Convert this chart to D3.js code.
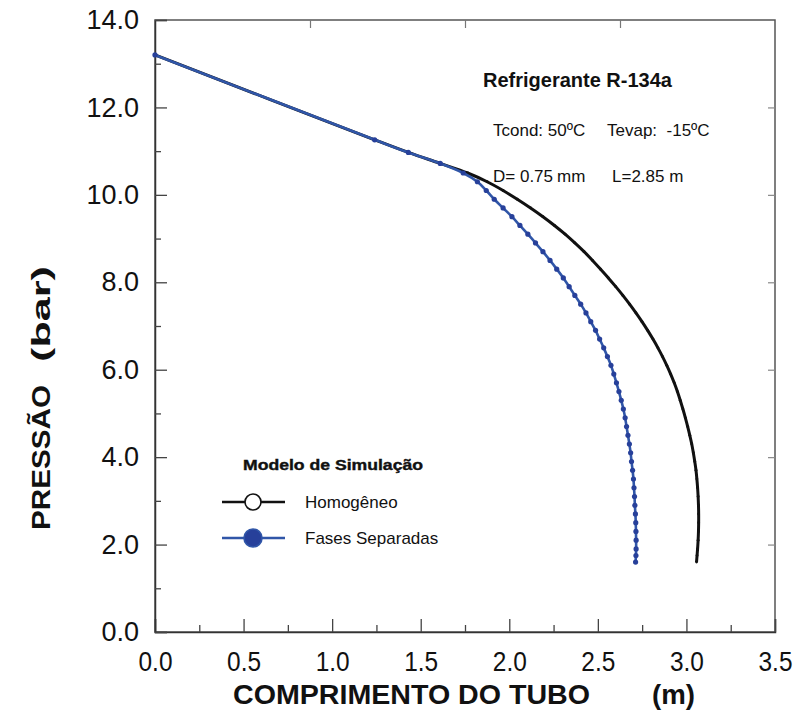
<!DOCTYPE html>
<html>
<head>
<meta charset="utf-8">
<script src="https://cdn.jsdelivr.net/npm/d3@7"></script>
<style>
  body { margin: 0; background: #fff; }
  svg { display: block; font-family: "Liberation Sans", Arial, sans-serif; }
</style>
</head>
<body>
<div id="chart"></div>
<script>
// Axis ticks
const xTickValues = [0, 0.5, 1.0, 1.5, 2.0, 2.5, 3.0, 3.5];
const xMinorTicks = [0.25, 0.75, 1.25, 1.75, 2.25, 2.75, 3.25];
const yTickValues = [0, 2, 4, 6, 8, 10, 12, 14];
const yMinorTicks = [1, 3, 5, 7, 9, 11, 13];
const topTicks = [0.875, 1.75, 2.625];
const rightTicks = [2, 4, 6, 8, 10, 12];

// Fases Separadas (blue) - pressure (bar) and tube length (m)
const sepPressure = [13.2, 11.26, 10.97, 10.72, 10.5, 10.3, 10.1, 9.9, 9.7, 9.5, 9.3, 9.1, 8.9, 8.7, 8.5,
  8.3, 8.1, 7.9, 7.7, 7.5, 7.3, 7.1, 6.9, 6.7, 6.5, 6.3, 6.1, 5.9, 5.7, 5.5, 5.3, 5.1, 4.9, 4.7, 4.5,
  4.3, 4.1, 3.9, 3.7, 3.5, 3.3, 3.1, 2.9, 2.7, 2.5, 2.3, 2.1, 1.9, 1.75, 1.6];
const sepLength = [0, 1.24, 1.43, 1.61, 1.74, 1.82, 1.87, 1.915, 1.965, 2.015, 2.06, 2.105, 2.148, 2.19, 2.23,
  2.268, 2.305, 2.338, 2.37, 2.403, 2.433, 2.46, 2.487, 2.51, 2.533, 2.554, 2.574, 2.59, 2.605, 2.619, 2.632, 2.644, 2.654, 2.662, 2.67,
  2.678, 2.685, 2.69, 2.696, 2.701, 2.704, 2.707, 2.709, 2.712, 2.714, 2.715, 2.716, 2.716, 2.715, 2.713];

// Homogeneo (black)
const homPressure = [13.2, 11.26, 10.97, 10.72, 10.5, 10.3, 10.1, 9.9, 9.7, 9.5, 9.3, 9.1, 8.9, 8.7, 8.5,
  8.3, 8.1, 7.9, 7.7, 7.5, 7.3, 7.1, 6.9, 6.7, 6.5, 6.3, 6.1, 5.9, 5.7, 5.5, 5.3, 5.1, 4.9, 4.7, 4.5,
  4.3, 4.1, 3.9, 3.7, 3.5, 3.3, 3.1, 2.9, 2.7, 2.5, 2.3, 2.1, 1.9, 1.75, 1.6];
const homLength = [0, 1.24, 1.43, 1.61, 1.765, 1.875, 1.965, 2.045, 2.12, 2.19, 2.255, 2.315, 2.37, 2.422, 2.47,
  2.515, 2.559, 2.601, 2.641, 2.679, 2.715, 2.749, 2.781, 2.811, 2.839, 2.865, 2.889, 2.911, 2.931, 2.949, 2.965, 2.98, 2.994, 3.007, 3.019,
  3.03, 3.039, 3.047, 3.054, 3.059, 3.063, 3.066, 3.068, 3.069, 3.069, 3.068, 3.066, 3.063, 3.06, 3.057];

const blue = "#3056a8";
const blueDot = "#27409a";

const W = 799, H = 720;
const margin = { top: 20, right: 24, bottom: 88, left: 155 };
const plotLeft = margin.left, plotRight = W - margin.right;
const plotTop = margin.top, plotBottom = H - margin.bottom;

const svg = d3.select("#chart").append("svg")
  .attr("width", W)
  .attr("height", H);

const x = d3.scaleLinear().domain([0, 3.5]).range([plotLeft, plotRight]);
const y = d3.scaleLinear().domain([0, 14]).range([plotBottom, plotTop]);

// Frame
svg.append("rect")
  .attr("x", plotLeft).attr("y", plotTop)
  .attr("width", plotRight - plotLeft).attr("height", plotBottom - plotTop)
  .attr("fill", "none").attr("stroke", "#555").attr("stroke-width", 1.5);

// Bottom axis (ticks inside)
const xAxis = svg.append("g")
  .attr("transform", `translate(0,${plotBottom})`)
  .call(d3.axisBottom(x).tickValues(xTickValues).tickSize(-13).tickPadding(20).tickFormat(d3.format(".1f")));
xAxis.select(".domain").attr("stroke", "#333").attr("stroke-width", 1.5);
xAxis.selectAll(".tick line").attr("stroke", "#444").attr("stroke-width", 1.3);
xAxis.selectAll(".tick text").attr("font-size", 27).attr("fill", "#111")
  .attr("font-family", "Liberation Sans, Arial, sans-serif")
  .attr("textLength", 34).attr("lengthAdjust", "spacingAndGlyphs");

svg.append("g")
  .attr("transform", `translate(0,${plotBottom})`)
  .call(d3.axisBottom(x).tickValues(xMinorTicks).tickSize(-7).tickFormat(""))
  .call(g => g.select(".domain").remove())
  .selectAll(".tick line").attr("stroke", "#444").attr("stroke-width", 1.3);

// Left axis
const yAxis = svg.append("g")
  .attr("transform", `translate(${plotLeft},0)`)
  .call(d3.axisLeft(y).tickValues(yTickValues).tickSize(-12).tickPadding(16).tickFormat(d3.format(".1f")));
yAxis.select(".domain").attr("stroke", "#333").attr("stroke-width", 1.5);
yAxis.selectAll(".tick line").attr("stroke", "#444").attr("stroke-width", 1.3);
yAxis.selectAll(".tick text").attr("font-size", 27).attr("fill", "#111")
  .attr("font-family", "Liberation Sans, Arial, sans-serif");

svg.append("g")
  .attr("transform", `translate(${plotLeft},0)`)
  .call(d3.axisLeft(y).tickValues(yMinorTicks).tickSize(-6).tickFormat(""))
  .call(g => g.select(".domain").remove())
  .selectAll(".tick line").attr("stroke", "#444").attr("stroke-width", 1.3);

// Top and right ticks
svg.append("g")
  .attr("transform", `translate(0,${plotTop})`)
  .call(d3.axisTop(x).tickValues(topTicks).tickSize(-8).tickFormat(""))
  .call(g => g.select(".domain").remove())
  .selectAll(".tick line").attr("stroke", "#777").attr("stroke-width", 1.2);

svg.append("g")
  .attr("transform", `translate(${plotRight},0)`)
  .call(d3.axisRight(y).tickValues(rightTicks).tickSize(-7).tickFormat(""))
  .call(g => g.select(".domain").remove())
  .selectAll(".tick line").attr("stroke", "#888").attr("stroke-width", 1.2);

// Series
const homData = homPressure.map((p, i) => ({ p: p, l: homLength[i] }));
const sepData = sepPressure.map((p, i) => ({ p: p, l: sepLength[i] }));

const line = d3.line()
  .x(d => x(d.l))
  .y(d => y(d.p))
  .curve(d3.curveCatmullRom.alpha(0.5));

svg.append("path")
  .datum(homData)
  .attr("d", line)
  .attr("fill", "none")
  .attr("stroke", "#111")
  .attr("stroke-width", 3);

svg.append("g").selectAll("circle")
  .data(homData.slice(3))
  .join("circle")
  .attr("cx", d => x(d.l))
  .attr("cy", d => y(d.p))
  .attr("r", 1.4)
  .attr("fill", "#111");

svg.append("path")
  .datum(sepData)
  .attr("d", line)
  .attr("fill", "none")
  .attr("stroke", blue)
  .attr("stroke-width", 2.6);

svg.append("g").selectAll("circle")
  .data(sepData)
  .join("circle")
  .attr("cx", d => x(d.l))
  .attr("cy", d => y(d.p))
  .attr("r", 2.6)
  .attr("fill", blueDot);

// Axis titles
svg.append("text")
  .attr("x", 233).attr("y", 704)
  .attr("font-size", 27).attr("font-weight", "bold").attr("fill", "#111")
  .attr("textLength", 357).attr("lengthAdjust", "spacingAndGlyphs")
  .text("COMPRIMENTO DO TUBO");
svg.append("text")
  .attr("x", 652).attr("y", 704)
  .attr("font-size", 27).attr("font-weight", "bold").attr("fill", "#111")
  .attr("textLength", 43).attr("lengthAdjust", "spacingAndGlyphs")
  .text("(m)");

svg.append("text")
  .attr("transform", "translate(50,530) rotate(-90)")
  .attr("font-size", 26).attr("font-weight", "bold").attr("fill", "#111")
  .attr("textLength", 145).attr("lengthAdjust", "spacingAndGlyphs")
  .text("PRESSÃO");
svg.append("text")
  .attr("transform", "translate(50,362) rotate(-90)")
  .attr("font-size", 26).attr("font-weight", "bold").attr("fill", "#111")
  .attr("textLength", 96).attr("lengthAdjust", "spacingAndGlyphs")
  .text("(bar)");

// Annotations
svg.append("text")
  .attr("x", 483).attr("y", 87)
  .attr("font-size", 20).attr("font-weight", "bold").attr("fill", "#111")
  .text("Refrigerante R-134a");

svg.append("text").attr("x", 493).attr("y", 136)
  .attr("font-size", 17).attr("fill", "#111").text("Tcond: 50ºC");
svg.append("text").attr("x", 607).attr("y", 136)
  .attr("font-size", 17).attr("fill", "#111").attr("xml:space", "preserve").text("Tevap:  -15ºC");

svg.append("text").attr("x", 493).attr("y", 182)
  .attr("font-size", 17).attr("fill", "#111").text("D= 0.75");
svg.append("text").attr("x", 557).attr("y", 182)
  .attr("font-size", 17).attr("fill", "#111").text("mm");
svg.append("text").attr("x", 612).attr("y", 182)
  .attr("font-size", 17).attr("fill", "#111").text("L=2.85 m");

// Legend
svg.append("text")
  .attr("x", 243).attr("y", 470)
  .attr("font-size", 15).attr("font-weight", "bold").attr("fill", "#111")
  .attr("stroke", "#111").attr("stroke-width", 0.4)
  .attr("textLength", 180).attr("lengthAdjust", "spacingAndGlyphs")
  .text("Modelo de Simulação");

const legendItems = [
  { label: "Homogêneo", stroke: "#111", fill: "#fff", r: 8, ly: 502 },
  { label: "Fases Separadas", stroke: blue, fill: blueDot, r: 9, ly: 538 }
];

const lg = svg.append("g");
legendItems.forEach(item => {
  lg.append("line")
    .attr("x1", 222).attr("x2", 285)
    .attr("y1", item.ly).attr("y2", item.ly)
    .attr("stroke", item.stroke).attr("stroke-width", 2.5);
  lg.append("circle")
    .attr("cx", 253).attr("cy", item.ly).attr("r", item.r)
    .attr("fill", item.fill).attr("stroke", item.stroke).attr("stroke-width", 1.6);
  lg.append("text")
    .attr("x", 305).attr("y", item.ly + 6)
    .attr("font-size", 17).attr("fill", "#111")
    .text(item.label);
});
</script>
</body>
</html>
